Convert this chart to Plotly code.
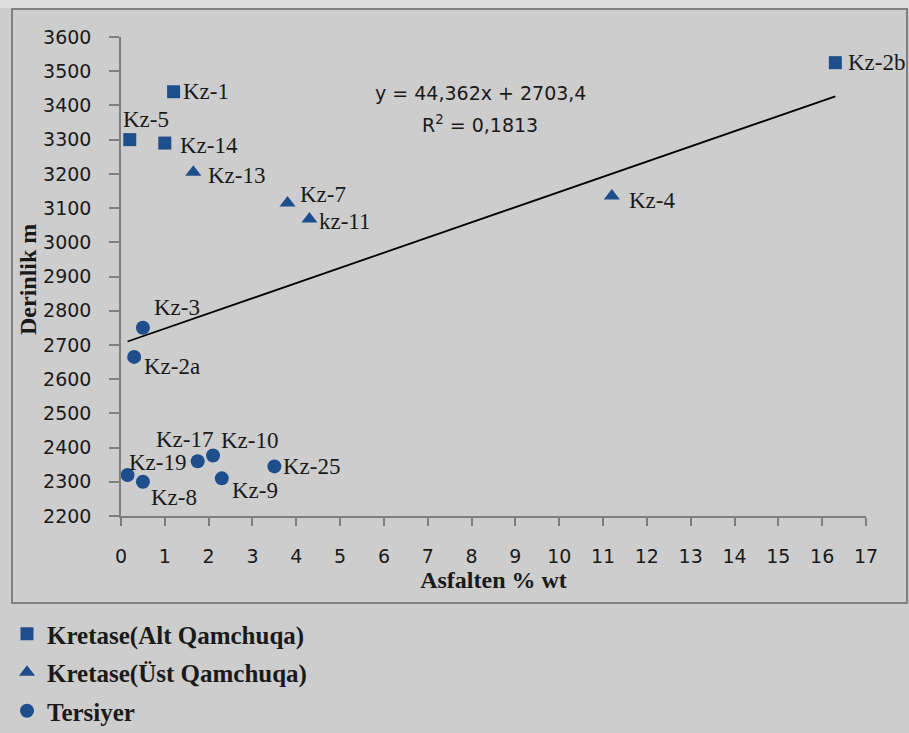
import plotly.graph_objects as go

# ---- data ----
alt_names = ["Kz-1", "Kz-5", "Kz-14", "Kz-2b"]
alt_x = [1.2, 0.2, 1.0, 16.3]
alt_y = [3440, 3300, 3290, 3525]

ust_names = ["Kz-13", "Kz-7", "kz-11", "Kz-4"]
ust_x = [1.65, 3.8, 4.3, 11.2]
ust_y = [3205, 3115, 3068, 3135]

ter_names = ["Kz-3", "Kz-2a", "Kz-19", "Kz-8", "Kz-17", "Kz-10", "Kz-9", "Kz-25"]
ter_x = [0.5, 0.3, 0.15, 0.5, 1.75, 2.1, 2.3, 3.5]
ter_y = [2750, 2665, 2320, 2300, 2360, 2377, 2310, 2345]

trend_slope = 44.362
trend_intercept = 2703.4
trend_eq = "y = 44,362x + 2703,4"
trend_r2 = "R<sup>2</sup> = 0,1813"

series_names = ["Kretase(Alt Qamchuqa)", "Kretase(Üst Qamchuqa)", "Tersiyer"]
x_title = "Asfalten % wt"
y_title = "Derinlik m"
x_ticks = list(range(0, 18))
y_ticks = list(range(2200, 3700, 100))

# label offsets (pixels, style only): name -> (xshift, yshift)
label_offsets = {
    "Kz-1": (7, 0), "Kz-5": (-9, 20), "Kz-14": (13, -2), "Kz-2b": (11, 0),
    "Kz-13": (13, -3), "Kz-7": (10, 8), "kz-11": (8, -2), "Kz-4": (15, -4),
    "Kz-3": (9, 20), "Kz-2a": (8, -10), "Kz-19": (-1, 12), "Kz-8": (6, -16),
    "Kz-17": (-44, 22), "Kz-10": (6, 15), "Kz-9": (8, -12), "Kz-25": (7, 0),
}

BLUE = "#1F4E8D"
BG = "#cdcdcd"
AXC = "#7f7f7f"
TXT = "#1a1a1a"
SERIF = "Liberation Serif"
SANS = "DejaVu Sans"

# plot-area geometry in pixels (style)
L, R, T, B = 121, 866, 37, 516
W, H = R - L, B - T


def px_x(p):
    return (p - L) / W


def px_y(p):
    return (B - p) / H


fig = go.Figure()

all_x = alt_x + ust_x + ter_x
tx = [min(all_x), max(all_x)]
ty = [trend_slope * v + trend_intercept for v in tx]
fig.add_trace(go.Scatter(x=tx, y=ty, mode="lines", line=dict(color="black", width=1.8),
                         showlegend=False, hoverinfo="skip"))

for name, xs, ys, sym, sz, grp in [
    (series_names[0], alt_x, alt_y, "square", 13, "a"),
    (series_names[1], ust_x, ust_y, "triangle-up", 14, "b"),
    (series_names[2], ter_x, ter_y, "circle", 14, "c"),
]:
    fig.add_trace(go.Scatter(x=xs, y=ys, mode="markers", name=name, legendgroup=grp,
                             marker=dict(symbol=sym, size=sz, color=BLUE, line=dict(width=0)),
                             cliponaxis=False))

annotations = []
for names, xs, ys in [(alt_names, alt_x, alt_y), (ust_names, ust_x, ust_y), (ter_names, ter_x, ter_y)]:
    for n, xv, yv in zip(names, xs, ys):
        dx, dy = label_offsets[n]
        annotations.append(dict(x=xv, y=yv, xref="x", yref="y", text=n, showarrow=False,
                                xanchor="left", yanchor="middle", xshift=dx, yshift=dy,
                                font=dict(family=SERIF, size=23, color=TXT)))

annotations.append(dict(x=px_x(480), y=px_y(80), xref="paper", yref="paper", text=trend_eq,
                        showarrow=False, font=dict(family=SANS, size=19, color=TXT)))
annotations.append(dict(x=px_x(480), y=px_y(110), xref="paper", yref="paper", text=trend_r2,
                        showarrow=False, font=dict(family=SANS, size=19, color=TXT)))
# y-axis title
annotations.append(dict(x=px_x(28), y=px_y(280), xref="paper", yref="paper", text=y_title,
                        textangle=-90, showarrow=False, xanchor="center", yanchor="middle",
                        font=dict(family=SERIF, size=24, color=TXT, weight="bold")))

fig.update_layout(
    width=909, height=733,
    margin=dict(l=L, r=909 - R, t=T, b=733 - B, autoexpand=False),
    paper_bgcolor=BG, plot_bgcolor=BG,
    annotations=annotations,
    showlegend=True,
    legend=dict(xref="container", yref="container", x=7 / 909, y=1 - 611 / 733,
                xanchor="left", yanchor="top",
                orientation="v", traceorder="grouped", tracegroupgap=3,
                bgcolor="rgba(0,0,0,0)",
                font=dict(family=SERIF, size=25, color=TXT, weight="bold")),
    shapes=[
        dict(type="rect", xref="paper", yref="paper",
             x0=px_x(0), x1=px_x(909), y0=px_y(8), y1=px_y(0),
             line=dict(width=0), fillcolor="#dcdcdc", layer="below"),
        dict(type="rect", xref="paper", yref="paper",
             x0=px_x(12), x1=px_x(907), y0=px_y(603), y1=px_y(9),
             line=dict(color="#808080", width=2), fillcolor="rgba(0,0,0,0)", layer="below"),
    ],
)

fig.update_xaxes(range=[0, 17], tickvals=x_ticks, ticktext=[str(v) for v in x_ticks],
                 showgrid=False, zeroline=False, showline=True, linecolor=AXC, linewidth=1.5,
                 ticks="outside", ticklen=8, tickcolor=AXC, tickwidth=1.5,
                 ticklabelstandoff=14,
                 tickfont=dict(family=SANS, size=19, color=TXT),
                 title=dict(text=x_title, standoff=0,
                            font=dict(family=SERIF, size=24, color=TXT, weight="bold")))
fig.update_yaxes(range=[2200, 3600], tickvals=y_ticks, ticktext=[str(v) for v in y_ticks],
                 showgrid=False, zeroline=False, showline=True, linecolor=AXC, linewidth=1.5,
                 ticks="outside", ticklen=10, tickcolor=AXC, tickwidth=1.5,
                 ticklabelstandoff=14,
                 tickfont=dict(family=SANS, size=19, color=TXT))

fig.write_html("out.html")
